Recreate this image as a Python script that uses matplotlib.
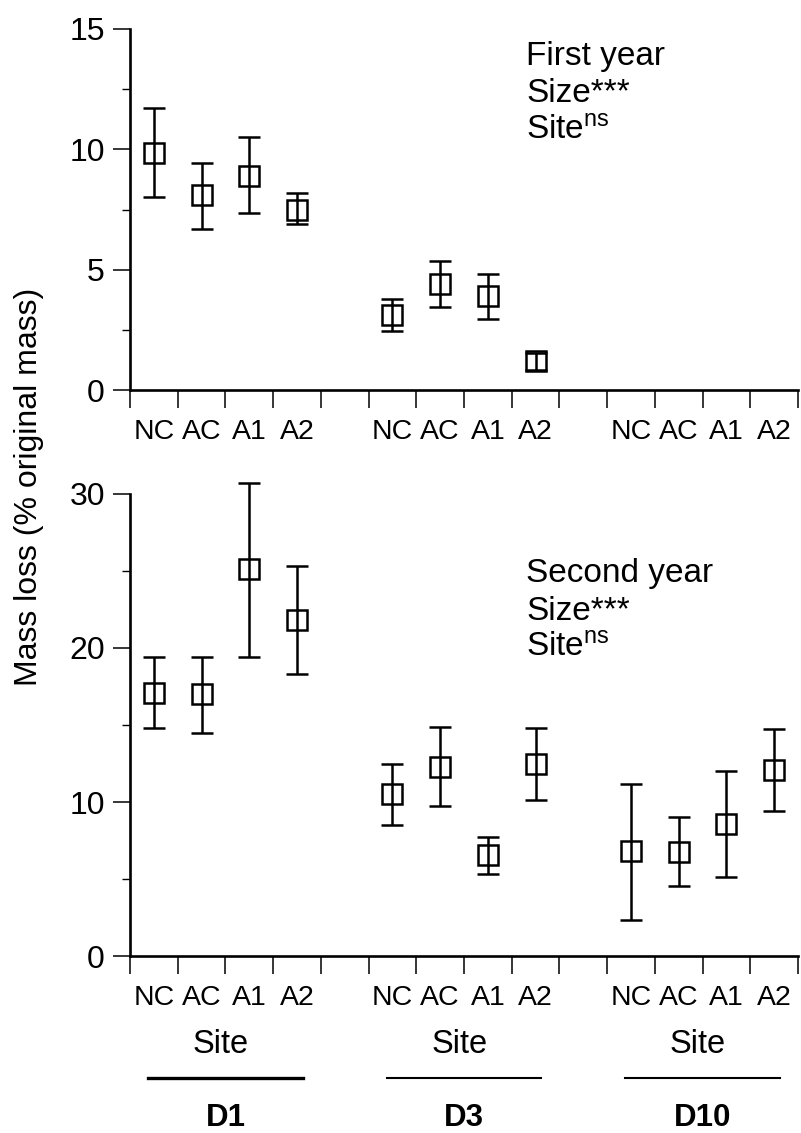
import matplotlib.pyplot as plt
import numpy as np
from matplotlib.transforms import blended_transform_factory

plt.rcParams['font.family'] = ['Liberation Sans', 'DejaVu Sans']
plt.rcParams['mathtext.default'] = 'regular'

SITES = ['D1', 'D3', 'D10']
TREATMENTS = ['NC', 'AC', 'A1', 'A2']

# first year: mean and upper / lower ends of the bars, per site (D10 not measured)
year1_mean = [[9.83, 8.1, 8.9, 7.5], [3.12, 4.4, 3.92, 1.2], [np.nan] * 4]
year1_upper = [[11.7, 9.44, 10.5, 8.2], [3.78, 5.35, 4.82, 1.55], [np.nan] * 4]
year1_lower = [[8.0, 6.7, 7.36, 6.9], [2.46, 3.46, 2.95, 0.85], [np.nan] * 4]

# second year
year2_mean = [[17.1, 17.0, 25.1, 21.8], [10.5, 12.3, 6.55, 12.45], [6.8, 6.75, 8.55, 12.1]]
year2_upper = [[19.4, 19.4, 30.7, 25.3], [12.5, 14.9, 7.75, 14.8], [11.2, 9.0, 12.0, 14.75]]
year2_lower = [[14.8, 14.5, 19.4, 18.3], [8.5, 9.75, 5.35, 10.1], [2.35, 4.55, 5.15, 9.4]]

panel_text = [['First year', 'Size***', r'Site$^{ns}$'],
              ['Second year', 'Size***', r'Site$^{ns}$']]

W, H = 801, 1133
fig = plt.figure(figsize=(W / 100, H / 100), dpi=100)

def px(x, y):
  return x / W, 1 - y / H

ax1 = fig.add_axes([130 / W, 1 - 390 / H, 668 / W, 361 / H])
ax2 = fig.add_axes([130 / W, 1 - 956 / H, 668 / W, 462 / H])

n_bins = len(SITES) * 5 - 1
centers = [5 * g + t + 0.5 for g in range(len(SITES)) for t in range(len(TREATMENTS))]
labels = TREATMENTS * len(SITES)

def draw_panel(ax, mean, upper, lower, ymax, ystep):
  m = np.array(mean, dtype=float).ravel()
  up = np.array(upper, dtype=float).ravel()
  lo = np.array(lower, dtype=float).ravel()
  ok = ~np.isnan(m)
  x = np.array(centers)[ok]
  ax.errorbar(x, m[ok], yerr=[m[ok] - lo[ok], up[ok] - m[ok]], fmt='s',
              ms=14, mfc='none', mec='black', mew=1.8, ecolor='black',
              elinewidth=1.8, capsize=8, capthick=1.8, clip_on=False)
  ax.set_xlim(0, n_bins)
  ax.set_ylim(0, ymax)
  ax.spines['top'].set_visible(False)
  ax.spines['right'].set_visible(False)
  for s in ['left', 'bottom']:
    ax.spines[s].set_linewidth(1.9)
  ax.set_yticks(np.arange(0, ymax + 0.1, ystep))
  ax.set_yticks(np.arange(ystep / 2, ymax, ystep), minor=True)
  ax.set_xticks(np.arange(0, n_bins + 1))
  ax.set_xticklabels([])
  ax.set_xticks(centers, minor=True)
  ax.set_xticklabels(labels, minor=True)
  ax.xaxis.set_tick_params(which='major', length=13, width=1.1, direction='out')
  ax.xaxis.set_tick_params(which='minor', length=0, pad=21, labelsize=20.5)
  ax.yaxis.set_tick_params(which='major', length=12, width=1.1, pad=6, labelsize=23)
  ax.yaxis.set_tick_params(which='minor', length=6, width=1.0)

draw_panel(ax1, year1_mean, year1_upper, year1_lower, 15, 5)
draw_panel(ax2, year2_mean, year2_upper, year2_lower, 30, 10)

# panel annotations
for lines, y0 in zip(panel_text, [65, 582]):
  for i, t in enumerate(lines):
    fig.text(*px(526, y0 + i * 37.5), t, fontsize=24, va='baseline', ha='left')

fig.text(*px(29, 487), 'Mass loss (% original mass)', rotation=90,
         fontsize=23, ha='center', va='center')

# site groups under the lower panel
tr = blended_transform_factory(ax2.transData, fig.transFigure)
line_w = [2.4, 1.5, 1.5]
for g, name in enumerate(SITES):
  c = 5 * g + 2
  ax2.text(c - 0.1, 1 - 1053 / H, 'Site', transform=tr, fontsize=23.5,
           ha='center', va='baseline')
  ax2.plot([c - 1.62, c + 1.62], [1 - 1078 / H] * 2, transform=tr,
           color='black', lw=line_w[g], clip_on=False)
  ax2.text(c, 1 - 1126 / H, name, transform=tr, fontsize=22.5,
           fontweight='bold', ha='center', va='baseline')

fig.savefig('out.png', dpi=100)
